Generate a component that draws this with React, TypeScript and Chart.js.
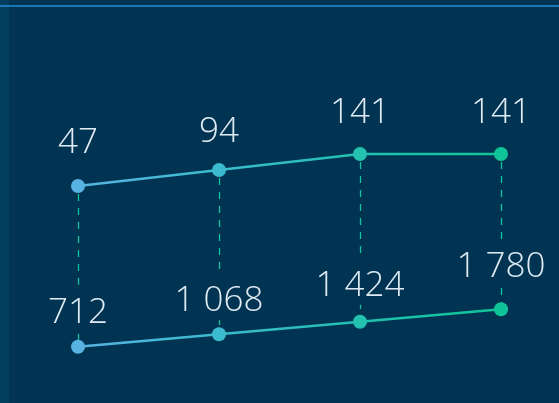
import React, { useEffect, useRef } from "react";
import { Chart, registerables } from "chart.js";

Chart.register(...registerables);

const categories = ["A", "B", "C", "D"];
const topValues = [47, 94, 141, 141];
const bottomValues = [712, 1068, 1424, 1780];
const pointColors = ["#58b3e3", "#3bbbcd", "#22c1b0", "#0fc597"];

const BG = "#003452";

function fmt(v: number): string {
  return String(v).replace(/\B(?=(\d{3})+(?!\d))/g, " ");
}

const overlayPlugin = {
  id: "overlay",
  beforeDatasetsDraw(chart: any) {
    const ctx = chart.ctx;
    const m0 = chart.getDatasetMeta(0);
    const m1 = chart.getDatasetMeta(1);
    ctx.save();
    // dashed connectors
    ctx.strokeStyle = "#16c3a0";
    ctx.lineWidth = 1.3;
    ctx.setLineDash([7, 7]);
    for (let i = 0; i < categories.length; i++) {
      const a = m0.data[i];
      const b = m1.data[i];
      ctx.beginPath();
      ctx.moveTo(Math.round(a.x) + 0.5, a.y + 8);
      ctx.lineTo(Math.round(a.x) + 0.5, b.y);
      ctx.stroke();
    }
    ctx.setLineDash([]);
    // labels
    ctx.font = "300 35px 'Open Sans', sans-serif";
    ctx.textAlign = "center";
    ctx.textBaseline = "alphabetic";
    const drawLabel = (text: string, x: number, baseY: number) => {
      const w = ctx.measureText(text).width;
      ctx.fillStyle = BG;
      ctx.fillRect(x - w / 2 - 2, baseY - 38, w + 4, 47);
      ctx.fillStyle = "#dfeaf3";
      ctx.fillText(text, x, baseY);
    };
    const topOff = [33, 28, 31, 31];
    const botOff = [24, 23, 26, 32];
    for (let i = 0; i < categories.length; i++) {
      const a = m0.data[i];
      drawLabel(fmt(topValues[i]), a.x, a.y - topOff[i]);
      const b = m1.data[i];
      drawLabel(fmt(bottomValues[i]), b.x, b.y - botOff[i]);
    }
    ctx.restore();
  },
};

function gradient(context: any) {
  const chart = context.chart;
  const area = chart.chartArea;
  if (!area) return pointColors[0];
  const g = chart.ctx.createLinearGradient(area.left, 0, area.right, 0);
  g.addColorStop(0, pointColors[0]);
  g.addColorStop(0.33, pointColors[1]);
  g.addColorStop(0.67, pointColors[2]);
  g.addColorStop(1, pointColors[3]);
  return g;
}

export default function App() {
  const ref = useRef<HTMLCanvasElement>(null);
  useEffect(() => {
    document.body.style.margin = "0";
    document.body.style.background = BG;
    const chart = new Chart(ref.current!, {
      type: "line",
      data: {
        labels: categories,
        datasets: [
          {
            data: topValues,
            yAxisID: "y1",
            borderColor: gradient,
            borderWidth: 2.5,
            pointRadius: 7,
            pointHoverRadius: 7,
            pointBackgroundColor: pointColors,
            pointBorderWidth: 0,
            tension: 0,
          },
          {
            data: bottomValues,
            yAxisID: "y2",
            borderColor: gradient,
            borderWidth: 2.5,
            pointRadius: 7,
            pointHoverRadius: 7,
            pointBackgroundColor: pointColors,
            pointBorderWidth: 0,
            tension: 0,
          },
        ],
      },
      options: {
        animation: false,
        responsive: false,
        maintainAspectRatio: false,
        layout: { autoPadding: false, padding: { left: 78, right: 58, top: 0, bottom: 0 } },
        plugins: { legend: { display: false }, tooltip: { enabled: false } },
        scales: {
          x: { type: "category", offset: false, display: false },
          y1: { type: "linear", display: false, min: -590, max: 593 },
          y2: { type: "linear", display: false, min: -896, max: 10612 },
        },
      },
      plugins: [overlayPlugin],
    });
    return () => chart.destroy();
  }, []);
  return (
    <div style={{ position: "relative", width: 559, height: 403, background: BG, overflow: "hidden" }}>
      <div style={{ position: "absolute", left: 0, top: 0, width: 9, height: 403, background: "#033f5e" }} />
      <div style={{ position: "absolute", left: 0, top: 5, width: 559, height: 2, background: "#1b77b5" }} />
      <canvas ref={ref} width={559} height={403} style={{ position: "absolute", left: 0, top: 0 }} />
    </div>
  );
}
